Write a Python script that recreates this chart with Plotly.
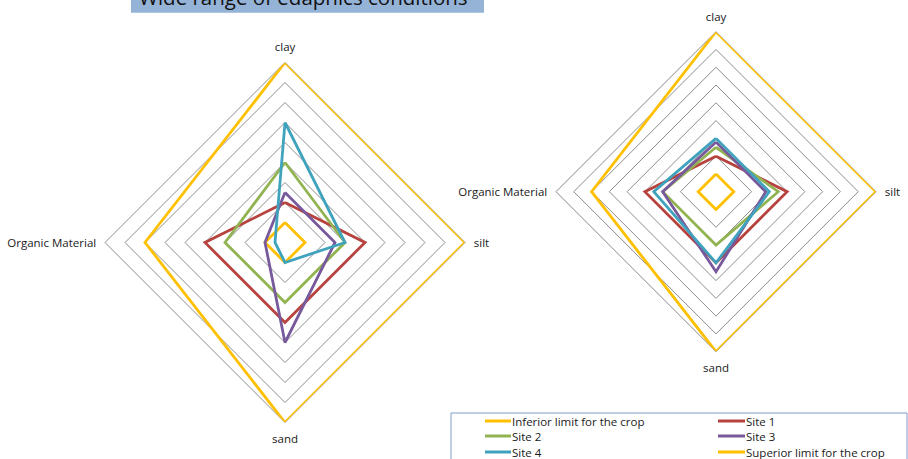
import plotly.graph_objects as go

categories = ["clay", "silt", "sand", "Organic Material"]
series_names = ["Inferior limit for the crop", "Site 1", "Site 2", "Site 3", "Site 4",
                "Superior limit for the crop"]
colors = ["#FFC000", "#B7433F", "#92B351", "#77599C", "#40A3BE", "#FFC000"]

# left chart values (clay, silt, sand, Organic Material)
left_inferior = [1, 1, 1, 1]
left_site1 = [2, 4, 4, 4]
left_site2 = [4, 3, 3, 3]
left_site3 = [2.5, 2.5, 5, 1]
left_site4 = [6, 3, 1, 0.5]
left_superior = [9, 9, 9, 7]

# right chart values
right_inferior = [1, 1, 1, 1]
right_site1 = [2, 4, 4, 4]
right_site2 = [2.5, 3.5, 3, 3]
right_site3 = [2.8, 2.8, 4.5, 3]
right_site4 = [3, 3, 4, 3.5]
right_superior = [9, 9, 9, 7]

left_series = [left_inferior, left_site1, left_site2, left_site3, left_site4, left_superior]
right_series = [right_inferior, right_site1, right_site2, right_site3, right_site4, right_superior]

W, H = 908, 459
FONT = "Open Sans"

fig = go.Figure()

def add_series(values_list, subplot):
    for name, vals, col in zip(series_names, values_list, colors):
        fig.add_trace(go.Scatterpolar(
            r=list(vals) + [vals[0]],
            theta=categories + [categories[0]],
            mode="lines",
            name=name,
            line=dict(color=col, width=2.8),
            subplot=subplot,
            showlegend=False,
            cliponaxis=False,
        ))

add_series(left_series, "polar")
add_series(right_series, "polar2")

def px_dom(cx, cy, rad):
    return dict(x=[(cx - rad) / W, (cx + rad) / W],
                y=[1 - (cy + rad) / H, 1 - (cy - rad) / H])

polar_common = dict(
    gridshape="linear",
    bgcolor="white",
    radialaxis=dict(range=[0, 9], dtick=1, tick0=0, showticklabels=False, ticks="",
                    showline=False, gridcolor="#8C8C8C", gridwidth=1, layer="below traces"),
    angularaxis=dict(rotation=90, direction="clockwise", showgrid=False, showline=True,
                     linecolor="#8C8C8C", linewidth=1, ticks="outside", ticklen=6,
                     tickcolor="rgba(0,0,0,0)", layer="below traces",
                     tickfont=dict(family=FONT, size=11.5, color="#1a1a1a")),
)

fig.update_layout(
    width=W, height=H, autosize=False,
    margin=dict(l=0, r=0, t=0, b=0),
    paper_bgcolor="white",
    font=dict(family=FONT, size=11.5, color="#1a1a1a"),
    polar=dict(domain=px_dom(285, 242.5, 180), **polar_common),
    polar2=dict(domain=px_dom(716, 191.7, 160), **polar_common),
)

# title box (cut at top)
fig.add_shape(type="rect", xref="paper", yref="paper",
              x0=131 / W, x1=484 / W, y0=1 - 12.7 / H, y1=1.1,
              fillcolor="#95B3D7", line=dict(width=0), layer="above")
fig.add_annotation(text="Wide range of edaphics conditions", xref="paper", yref="paper",
                   x=303 / W, y=1 - 13.5 / H, xanchor="center", yanchor="bottom",
                   showarrow=False, font=dict(family=FONT, size=20.5, color="#111111"))

# legend box
fig.add_shape(type="rect", xref="paper", yref="paper",
              x0=451 / W, x1=907 / W, y0=-0.1, y1=1 - 413 / H,
              fillcolor="rgba(0,0,0,0)", line=dict(color="#7F9CCB", width=1), layer="above")

legend_rows = [421, 436, 452]
legend_cols = [(485, 511, 510), (718, 745, 744)]
for i, (name, col) in enumerate(zip(series_names, colors)):
    row, c = divmod(i, 2)
    lx0, lx1, tx = legend_cols[c]
    yy = 1 - legend_rows[row] / H
    fig.add_shape(type="line", xref="paper", yref="paper",
                  x0=lx0 / W, x1=lx1 / W, y0=yy, y1=yy,
                  line=dict(color=col, width=3), layer="above")
    fig.add_annotation(text=name, xref="paper", yref="paper", x=tx / W, y=yy,
                       xanchor="left", yanchor="middle", showarrow=False,
                       font=dict(family=FONT, size=11.5, color="#1a1a1a"))

fig.write_html("out.html")
